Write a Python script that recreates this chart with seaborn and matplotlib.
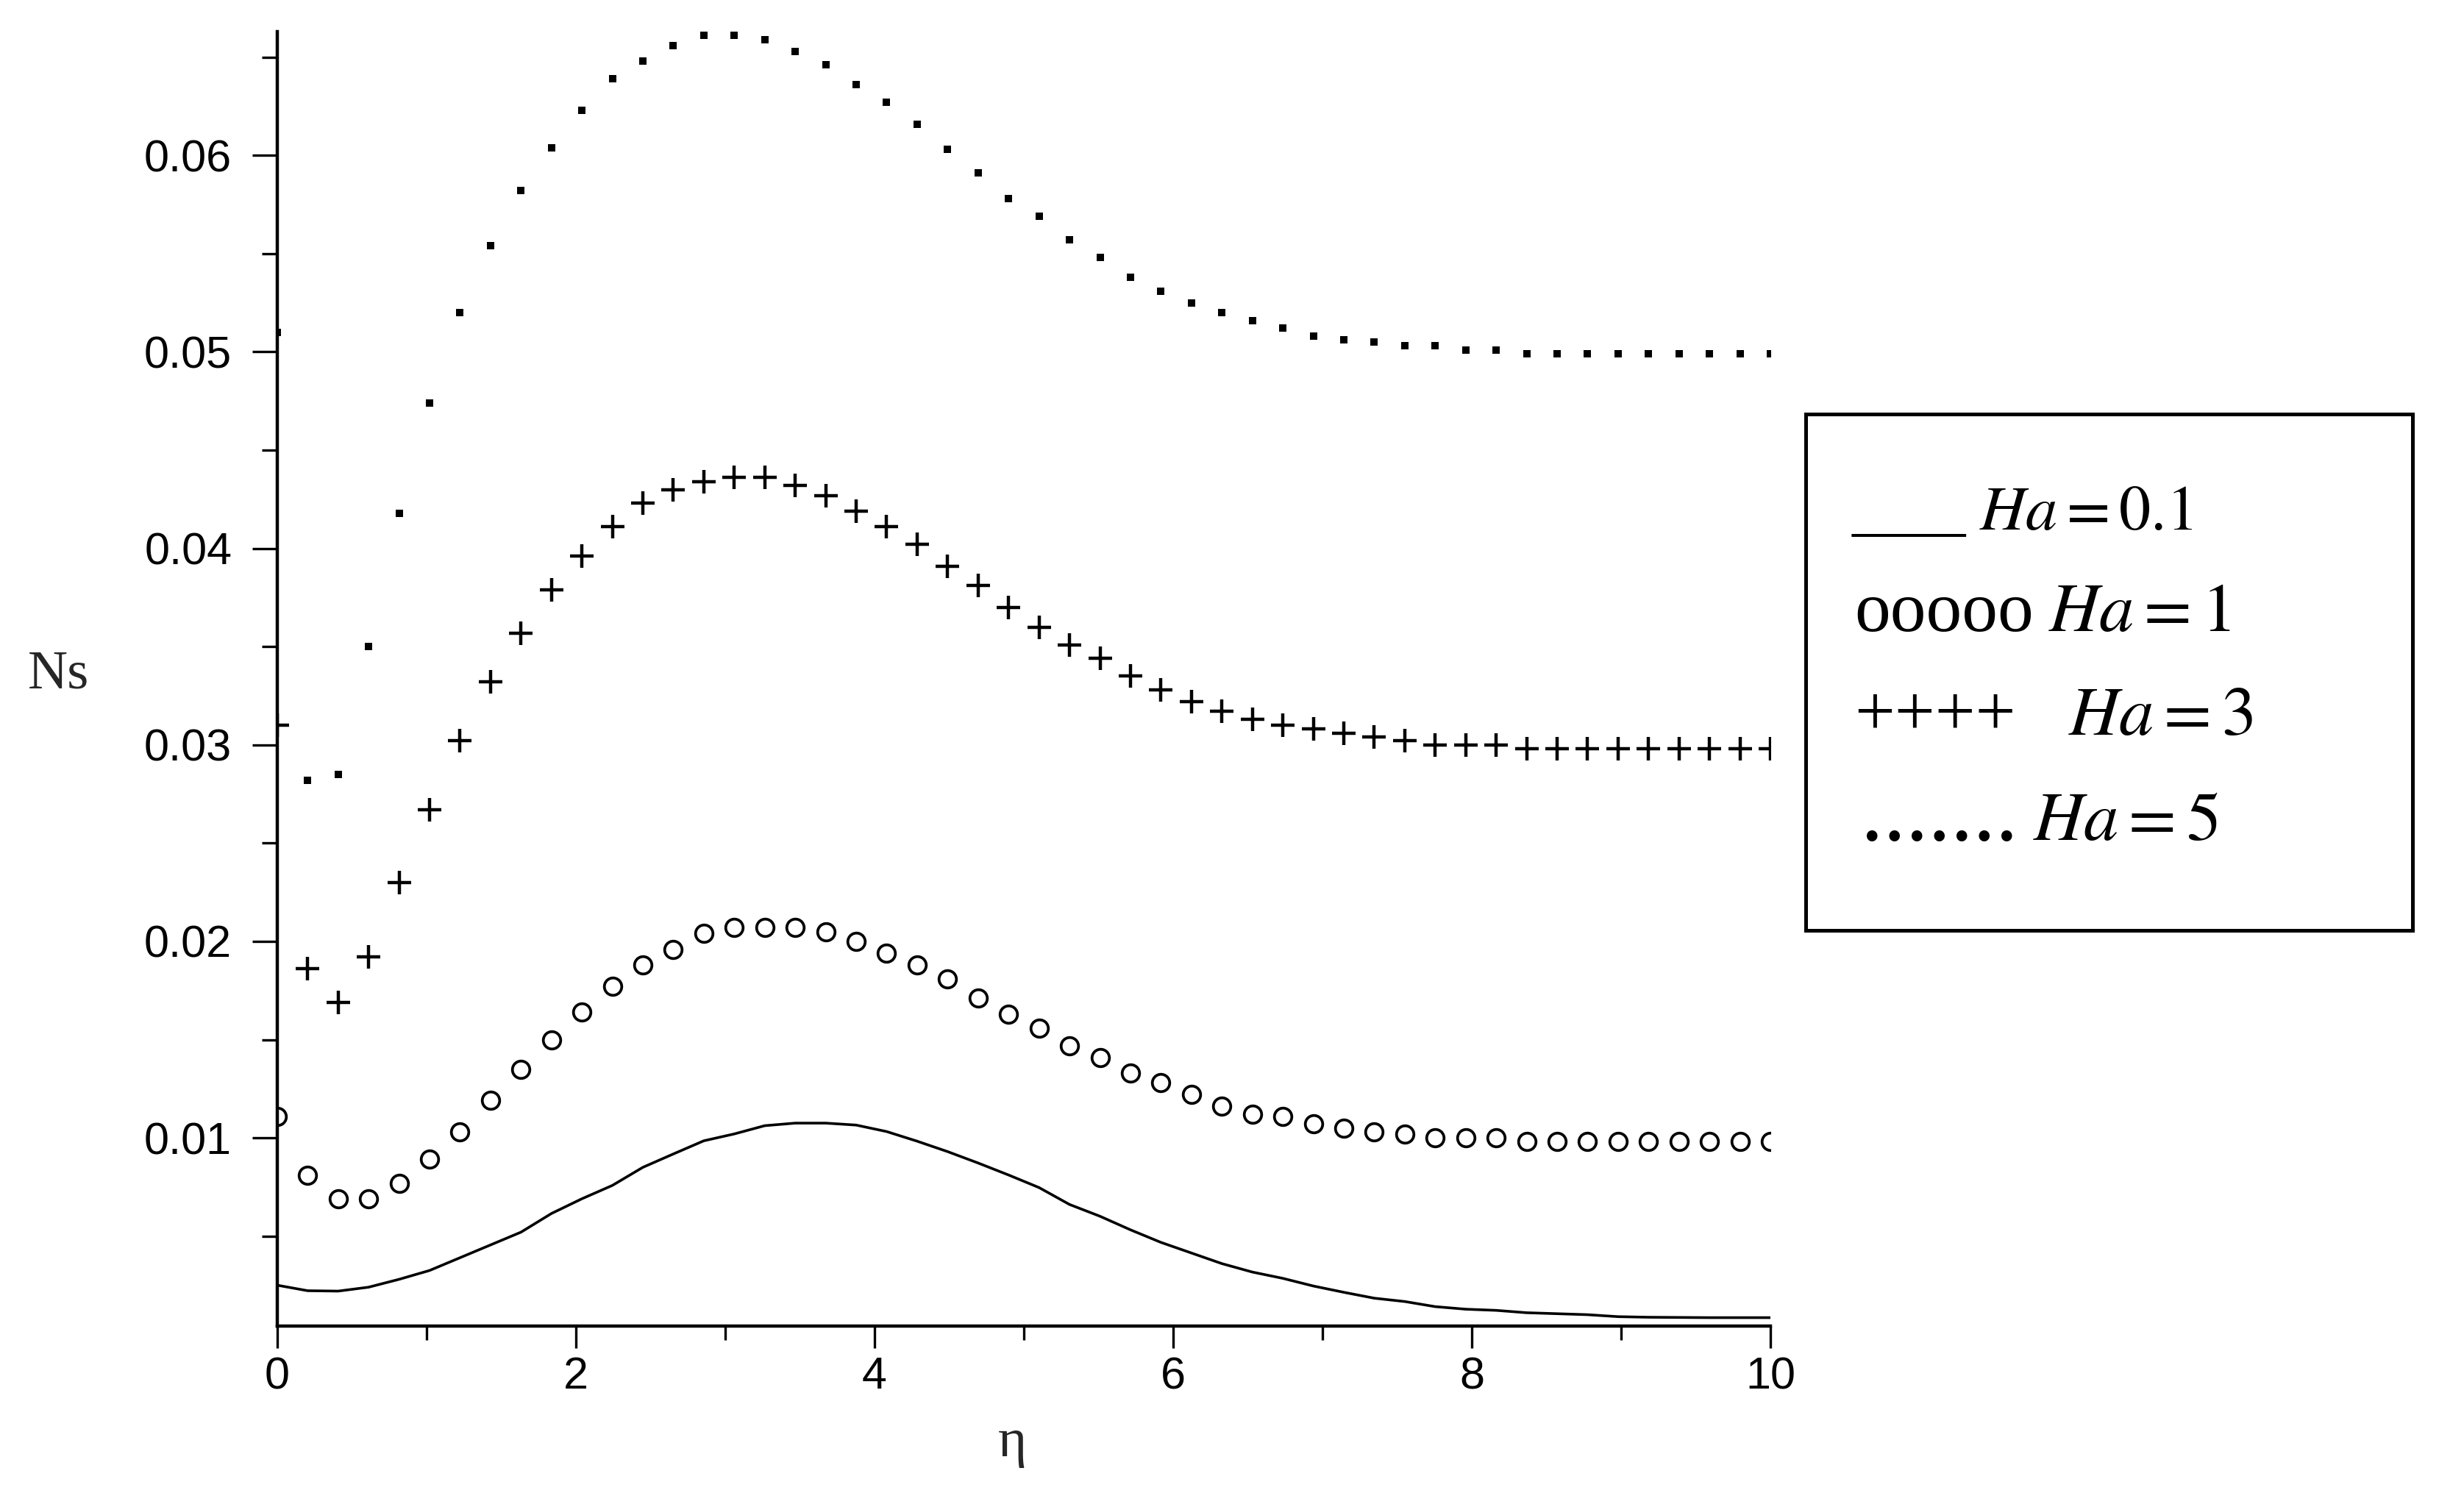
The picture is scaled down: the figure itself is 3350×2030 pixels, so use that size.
import numpy as np
import matplotlib
matplotlib.use("Agg")
import matplotlib.pyplot as plt
import seaborn as sns
from matplotlib.ticker import MultipleLocator, FormatStrFormatter
from matplotlib.patches import Rectangle

# sample grid of the solver (50 points on [0, 10])
eta = np.linspace(0, 10, 50)

ns_ha01 = [0.00250, 0.00222, 0.00220, 0.00240, 0.00280, 0.00325, 0.00390, 0.00455, 0.00520, 0.00615,
           0.00690, 0.00758, 0.00850, 0.00918, 0.00985, 0.01020, 0.01062, 0.01075, 0.01075, 0.01065,
           0.01032, 0.00983, 0.00930, 0.00872, 0.00811, 0.00747, 0.00661, 0.00601, 0.00532, 0.00468,
           0.00414, 0.00360, 0.00317, 0.00285, 0.00246, 0.00214, 0.00184, 0.00167, 0.00141, 0.00128,
           0.00122, 0.00110, 0.00105, 0.00100, 0.00090, 0.00087, 0.00086, 0.00085, 0.00085, 0.00085]

ns_ha1 = [0.0111, 0.0081, 0.0069, 0.0069, 0.0077, 0.0089, 0.0103, 0.0119, 0.0135, 0.0150,
          0.0164, 0.0177, 0.0188, 0.0196, 0.0204, 0.0207, 0.0207, 0.0207, 0.0205, 0.0200,
          0.0194, 0.0188, 0.0181, 0.0171, 0.0163, 0.0156, 0.0147, 0.0141, 0.0133, 0.0128,
          0.0122, 0.0116, 0.0112, 0.0111, 0.0107, 0.0105, 0.0103, 0.0102, 0.0100, 0.0100,
          0.0100, 0.0098, 0.0098, 0.0098, 0.0098, 0.0098, 0.0098, 0.0098, 0.0098, 0.0098]

ns_ha3 = [0.0310, 0.0186, 0.0169, 0.0192, 0.0230, 0.0267, 0.0302, 0.0332, 0.0357, 0.0379,
          0.0396, 0.0411, 0.0423, 0.0430, 0.0434, 0.0436, 0.0436, 0.0432, 0.0427, 0.0419,
          0.0411, 0.0402, 0.0391, 0.0381, 0.0370, 0.0360, 0.0351, 0.0344, 0.0335, 0.0328,
          0.0322, 0.0317, 0.0313, 0.0310, 0.0308, 0.0306, 0.0304, 0.0302, 0.0300, 0.0300,
          0.0300, 0.0298, 0.0298, 0.0298, 0.0298, 0.0298, 0.0298, 0.0298, 0.0298, 0.0298]

ns_ha5 = [0.0510, 0.0282, 0.0285, 0.0350, 0.0418, 0.0474, 0.0520, 0.0554, 0.0582, 0.0604,
          0.0623, 0.0639, 0.0648, 0.0656, 0.0661, 0.0661, 0.0659, 0.0653, 0.0646, 0.0636,
          0.0627, 0.0616, 0.0603, 0.0591, 0.0578, 0.0569, 0.0557, 0.0548, 0.0538, 0.0531,
          0.0525, 0.0520, 0.0516, 0.0512, 0.0508, 0.0506, 0.0505, 0.0503, 0.0503, 0.0501,
          0.0501, 0.0499, 0.0499, 0.0499, 0.0499, 0.0499, 0.0499, 0.0499, 0.0499, 0.0499]

sns.set_theme(style="ticks")
plt.rcParams['font.family'] = ['Liberation Sans', 'DejaVu Sans']
plt.rcParams['mathtext.fontset'] = 'stix'
plt.rcParams['axes.edgecolor'] = 'black'
plt.rcParams['xtick.color'] = 'black'
plt.rcParams['ytick.color'] = 'black'
plt.rcParams['text.color'] = 'black'

fig = plt.figure(figsize=(16.75, 10.15), dpi=200)
ax = fig.add_axes([0.1125, 0.1118, 0.606, 0.867])

# Ha = 0.1 solid line
sns.lineplot(x=eta, y=ns_ha01, ax=ax, color='black', lw=1.3)
# Ha = 1 open circles
sns.lineplot(x=eta, y=ns_ha1, ax=ax, color='black', linestyle='none', marker='o',
             markersize=8.5, markerfacecolor='none', markeredgecolor='black', markeredgewidth=1.35)
# Ha = 3 crosses
sns.lineplot(x=eta, y=ns_ha3, ax=ax, color='black', linestyle='none', marker='+',
             markersize=11.5, markeredgecolor='black', markeredgewidth=1.6)
# Ha = 5 dots
sns.lineplot(x=eta, y=ns_ha5, ax=ax, color='black', linestyle='none', marker='s',
             markersize=3.6, markerfacecolor='black', markeredgecolor='black', markeredgewidth=0)

ax.set_xlim(0, 10)
ax.set_ylim(0.00042, 0.0663)
sns.despine(ax=ax)
for s in ['left', 'bottom']:
    ax.spines[s].set_linewidth(1.6)

ax.xaxis.set_major_locator(MultipleLocator(2))
ax.xaxis.set_minor_locator(MultipleLocator(1))
ax.yaxis.set_major_locator(MultipleLocator(0.01))
ax.yaxis.set_minor_locator(MultipleLocator(0.005))
ax.xaxis.set_major_formatter(FormatStrFormatter('%d'))
ax.yaxis.set_major_formatter(FormatStrFormatter('%.2f'))

ax.tick_params(axis='x', which='major', length=10.8, width=1.2, labelsize=22, pad=4)
ax.tick_params(axis='x', which='minor', length=7, width=1.2)
ax.tick_params(axis='y', which='major', length=12.2, width=1.2, labelsize=22, pad=10)
ax.tick_params(axis='y', which='minor', length=7.5, width=1.2)

ax.set_ylabel('Ns', rotation=0, fontfamily='Liberation Serif', fontsize=27, ha='center', va='center')
ax.yaxis.set_label_coords(-0.1463, 0.503)
ax.set_xlabel('η', fontfamily='Liberation Serif', fontsize=27, va='center')
ax.xaxis.set_label_coords(0.4926, -0.0903)

# legend box drawn with text symbols, as in the original
fig.add_artist(Rectangle((0.7328, 0.3768), 0.2463, 0.3458, transform=fig.transFigure,
                         fill=False, lw=1.8, ec='black'))

W, H = 3350.0, 2030.0
legend_rows = [
    ("____", 2518, 720, 28, r"$Ha = 0.1$", 2691, 31),
    ("ooooo", 2521, 858, 35, r"$Ha = 1$", 2785, 34),
    ("++++", 2521, 999, 35, r"$Ha = 3$", 2812, 34),
    (".......", 2530, 1142, 44, r"$Ha = 5$", 2764, 34),
]
for sym, sx, by, ssz, lab, lx, lsz in legend_rows:
    fig.text(sx / W, 1 - by / H, sym, fontfamily='Liberation Serif', fontsize=ssz,
             ha='left', va='baseline')
    fig.text(lx / W, 1 - by / H, lab, fontsize=lsz, ha='left', va='baseline')

fig.savefig('out.png', dpi=200, facecolor='white')
